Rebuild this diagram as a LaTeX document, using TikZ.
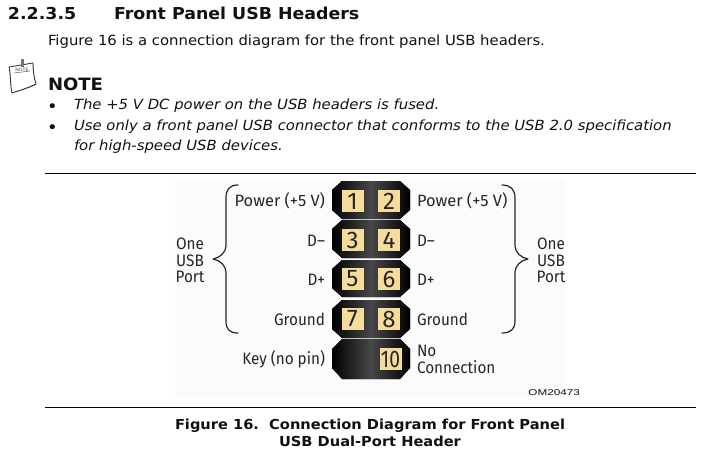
\documentclass[tikz,border=0pt]{standalone}
\usepackage{fontspec}
\setmainfont[FakeStretch=1.06]{DejaVu Sans}
\newfontfamily\figfont{Fira Sans}
\newfontfamily\fignarrow[FakeStretch=0.92]{Fira Sans}
\newfontfamily\figcond[FakeStretch=0.8]{Fira Sans}
\newfontfamily\figwide[FakeStretch=1.38]{Liberation Sans}
\definecolor{pinc}{HTML}{F6DC9C}
\definecolor{ink}{HTML}{111111}
\tikzset{
  x=1pt,y=-1pt,
  every node/.style={inner sep=0pt,outer sep=0pt,text=ink},
  head/.style={font=\bfseries\fontsize{16.4}{18}\selectfont,anchor=base west},
  body/.style={font=\fontsize{14}{16}\selectfont,anchor=base west},
  bul/.style={font=\fontsize{17}{16}\selectfont,anchor=base west},
  ital/.style={font=\itshape\fontsize{14}{16}\selectfont,anchor=base west},
  captext/.style={font=\bfseries\fontsize{13.8}{16}\selectfont,anchor=base},
  rulerline/.style={draw=black,line width=0.9pt},
  lab/.style={font=\fignarrow\fontsize{16.6}{16}\selectfont,text=black!85},
  labp/.style={font=\figfont\fontsize{16.4}{16}\selectfont,text=black!85},
  labl/.style={lab,anchor=base east},
  labr/.style={lab,anchor=base west},
  labc/.style={lab,anchor=base},
  pinbox/.style={fill=pinc,minimum width=22pt,minimum height=22pt,font=\figfont\fontsize{24}{24}\selectfont,text=black!85},
  pinwide/.style={pinbox,font=\figcond\fontsize{24}{24}\selectfont},
  bodyshell/.style={left color=black,right color=black,middle color=black!72},
  bracel/.style={draw=black!85,line width=1.2pt,line cap=round,line join=round},
}
\newcommand{\shell}[2]{\fill[bodyshell] (332,#1+9) -- (342,#1) -- (400,#1) -- (410,#1+9) -- (410,#2-9) -- (400,#2) -- (342,#2) -- (332,#2-9) -- cycle;}
\begin{document}
\begin{tikzpicture}
\useasboundingbox (0,0) rectangle (718,452);
\fill[white] (0,0) rectangle (718,452);
\fill[black!1.5] (175,180) rectangle (565,397);
% text
\node[head] (num) at (8,20) {2.2.3.5};
\node[head] (title) at (114,20) {Front Panel USB Headers};
\node[body] (intro) at (48,46) {Figure 16 is a connection diagram for the front panel USB headers.};
\node[font=\bfseries\fontsize{17}{20}\selectfont,anchor=base west] (note) at (48,91) {NOTE};
\node[bul] (b1) at (47,112) {•};
\node[ital] (t1) at (74,110) {The +5 V DC power on the USB headers is fused.};
\node[bul] (b2) at (47,133) {•};
\node[ital] (t2) at (74,131) {Use only a front panel USB connector that conforms to the USB 2.0 specification};
\node[ital] (t3) at (74,150) {for high-speed USB devices.};
% note icon
\fill[black!35] (13,92) .. controls (20,91) and (30,88) .. (36,85) -- (35,80) .. controls (28,84) and (20,87) .. (13,88) -- cycle;
\draw[black!80,fill=white,line width=0.9pt,line join=round] (9,67) -- (33,63) .. controls (33,70) and (34,78) .. (36,84) .. controls (28,88) and (18,91) .. (12,93) .. controls (10,84) and (11,76) .. (9,67) -- cycle;
\fill[black!55] (21,59) rectangle (24,67);
\draw[black!60,line width=0.5pt] (14,73) -- (30,71);
\node[font=\fontsize{4.5}{5}\selectfont,text=black!70] (noteword) at (22,70) {NOTE};
% rules
\draw[rulerline] (45,173) -- (696,173);
\draw[rulerline] (45,407) -- (696,407);
% header
\shell{181}{219}
\shell{220}{258}
\shell{260}{297}
\shell{300}{338}
\fill[bodyshell] (332,349) -- (342,339) -- (400,339) -- (410,349) -- (410,368) -- (400,379) -- (342,379) -- (332,368) -- cycle;
\node[pinbox] (p1) at (352.5,201) {1};
\node[pinbox] (p2) at (389,201) {2};
\node[pinbox] (p3) at (352.5,240) {3};
\node[pinbox] (p4) at (389,240) {4};
\node[pinbox] (p5) at (352.5,279) {5};
\node[pinbox] (p6) at (389,279) {6};
\node[pinbox] (p7) at (352.5,319) {7};
\node[pinbox] (p8) at (389,319) {8};
\node[pinwide] (p10) at (390.5,359) {10};
% labels
\node[labp,anchor=base east] (l1) at (325,206) {Power (+5 V)};
\node[labl] (l3) at (325,246) {D–};
\node[labl] (l5) at (325,285) {D+};
\node[labl] (l7) at (325,325) {Ground};
\node[labl] (l9) at (325,364) {Key (no pin)};
\node[labp,anchor=base west] (r2) at (417,206) {Power (+5 V)};
\node[labr] (r4) at (417,246) {D–};
\node[labr] (r6) at (417,285) {D+};
\node[labr] (r8) at (417,325) {Ground};
\node[labr] (r10a) at (417,356) {No};
\node[labr] (r10b) at (417,373) {Connection};
\node[labc] (pl1) at (190,249) {One};
\node[labc] (pl2) at (190,266) {USB};
\node[labc] (pl3) at (190,282) {Port};
\node[labc] (pr1) at (551,249) {One};
\node[labc] (pr2) at (551,266) {USB};
\node[labc] (pr3) at (551,282) {Port};
\node[font=\figwide\fontsize{8.5}{9}\selectfont,anchor=base east] (om) at (580,395) {OM20473};
% braces
\draw[bracel] (238,185) .. controls (229,185) and (226,190) .. (226,198) -- (226,246) .. controls (226,252) and (220,258) .. (213,259) .. controls (220,260) and (226,266) .. (226,272) -- (226,321) .. controls (226,329) and (229,333) .. (238,333);
\draw[bracel] (502,185) .. controls (511,185) and (515,190) .. (515,198) -- (515,246) .. controls (515,252) and (521,258) .. (528,259) .. controls (521,260) and (515,266) .. (515,272) -- (515,321) .. controls (515,329) and (511,333) .. (502,333);
% caption
\node[captext] (c1) at (370,429) {Figure 16.\ \ Connection Diagram for Front Panel};
\node[captext] (c2) at (370,446) {USB Dual-Port Header};
\end{tikzpicture}
\end{document}
